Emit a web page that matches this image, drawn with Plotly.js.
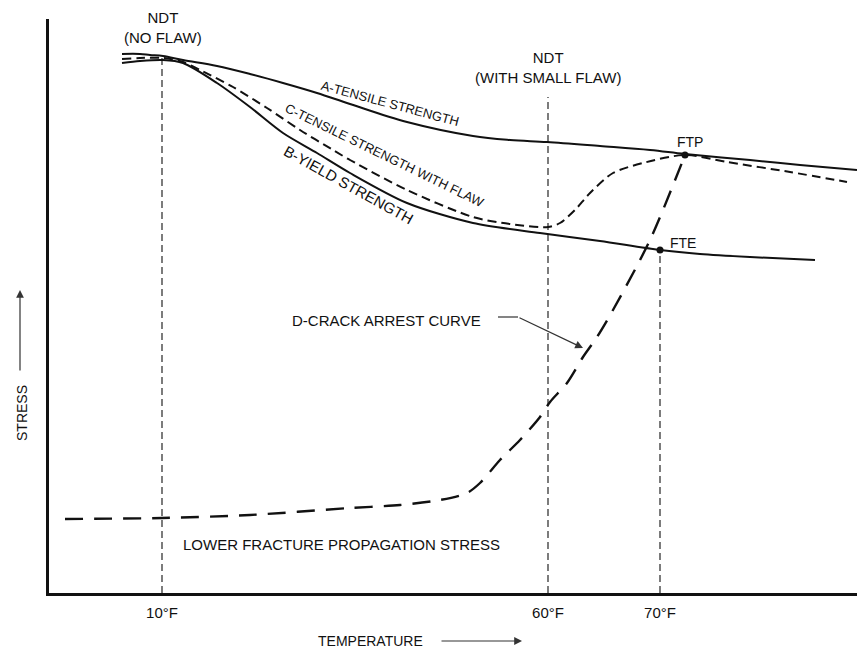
<!DOCTYPE html>
<html>
<head>
<meta charset="utf-8">
<script src="https://cdn.plot.ly/plotly-3.0.1.min.js"></script>
<style>html,body{margin:0;padding:0;background:#fff;}#chart{width:857px;height:650px;}</style>
</head>
<body>
<div id="chart"></div>
<script>
// Schematic chart: arbitrary temperature position units (x) and arbitrary stress units (y)
var tickPos = [117, 503, 615];
var tickLabels = ['10°F', '60°F', '70°F'];

// A - tensile strength
var aX = [77, 95, 105, 118, 138, 172, 205, 238, 272, 305, 362, 428, 465, 502, 555, 605, 640, 705, 755, 812];
var aY = [541, 541, 540, 539, 535, 529, 521, 512, 502, 491, 473, 459, 455, 453, 449, 445, 441, 435, 430, 425];

// B - yield strength
var bX = [77, 95, 118, 138, 172, 205, 238, 272, 305, 362, 428, 495, 555, 615, 655, 705, 770];
var bY = [532, 534, 535, 532, 512, 488, 462, 442, 422, 392, 372, 362, 354, 345, 341, 338, 335];

// C - tensile strength with flaw
var cX = [77, 95, 118, 138, 155, 188, 222, 255, 288, 305, 362, 428, 465, 503, 515, 530, 545, 568, 598, 640, 682, 745, 802];
var cY = [536, 537, 537, 533, 525, 508, 487, 465, 445, 435, 405, 378, 371, 368, 372, 385, 402, 422, 432, 440, 433, 423, 413];

// D - crack arrest curve
var dX = [20, 117, 205, 305, 355, 395, 422, 435, 455, 475, 495, 505, 522, 538, 552, 568, 605, 640];
var dY = [76, 77, 80, 87, 90, 95, 102, 112, 135, 155, 178, 193, 212, 238, 258, 285, 355, 440];

// Reference temperatures (vertical dashed lines) and their tops
var refX = [117, 503, 615];
var refTop = [537, 498, 345];

// FTP / FTE points
var ptNames = ['FTP', 'FTE'];
var ptX = [640, 615];
var ptY = [440, 345];

var INK = '#111111';
var FONT = 'Liberation Sans, Arial, sans-serif';
var XMIN = 4, XMAX = 812, YMIN = 2, YMAX = 576;

function px(x) { return (x - XMIN) / (XMAX - XMIN); }
function py(y) { return (y - YMIN) / (YMAX - YMIN); }

var traces = [];
for (var i = 0; i < refX.length; i++) {
  traces.push({x: [refX[i], refX[i]], y: [YMIN, refTop[i]], mode: 'lines',
    line: {color: INK, width: 1.1, dash: '7px,4px'}, hoverinfo: 'skip'});
}
traces.push({x: aX, y: aY, mode: 'lines', line: {color: INK, width: 2, shape: 'spline', smoothing: 1}});
traces.push({x: bX, y: bY, mode: 'lines', line: {color: INK, width: 2, shape: 'spline', smoothing: 0.8}});
traces.push({x: cX, y: cY, mode: 'lines', line: {color: INK, width: 2, shape: 'spline', smoothing: 0.8, dash: '9px,5px'}});
traces.push({x: dX, y: dY, mode: 'lines', line: {color: INK, width: 2.4, shape: 'spline', smoothing: 0.8, dash: '18px,11px'}});
traces.push({x: ptX, y: ptY, mode: 'markers', marker: {color: INK, size: 7}});

var ann = [
  {x: 118, y: 568, text: 'NDT<br>(NO FLAW)', size: 15},
  {x: 503, y: 527, text: 'NDT<br>(WITH SMALL FLAW)', size: 15},
  {x: 345, y: 492, text: 'A-TENSILE STRENGTH', size: 13, angle: 15},
  {x: 340, y: 440, text: 'C-TENSILE STRENGTH WITH FLAW', size: 13, angle: 26},
  {x: 303, y: 410, text: 'B-YIELD STRENGTH', size: 15, angle: 29},
  {x: 645, y: 453, text: ptNames[0], size: 14},
  {x: 638, y: 352, text: ptNames[1], size: 14},
  {x: 341, y: 275, text: 'D-CRACK ARREST CURVE', size: 15},
  {x: 296, y: 51, text: 'LOWER FRACTURE PROPAGATION STRESS', size: 15},
  {x: 325, y: -46, text: 'TEMPERATURE', size: 14},
  {x: -23, y: 182, text: 'STRESS', size: 14, angle: -90}
].map(function (a) {
  return {x: px(a.x), y: py(a.y), xref: 'paper', yref: 'paper', text: a.text, showarrow: false,
    textangle: a.angle || 0, xanchor: 'center', yanchor: 'middle',
    font: {family: FONT, size: a.size, color: INK}};
});
// arrows (head position, tail offset in px)
[[538, 247, -65, -31], [477, -46, -82, 0], [-25, 305, 0, 82]].forEach(function (a) {
  ann.push({x: px(a[0]), y: py(a[1]), xref: 'paper', yref: 'paper', ax: a[2], ay: a[3],
    text: '', showarrow: true, arrowhead: 2, arrowsize: 1.3, arrowwidth: 1.2, arrowcolor: '#333'});
});

var layout = {
  width: 857, height: 650,
  margin: {l: 49, r: 0, t: 19, b: 57},
  paper_bgcolor: '#fff', plot_bgcolor: '#fff',
  showlegend: false, hovermode: false,
  xaxis: {range: [XMIN, XMAX], showgrid: false, zeroline: false, showline: true,
    linecolor: INK, linewidth: 3, ticks: '', tickvals: tickPos, ticktext: tickLabels,
    ticklabelstandoff: 4,
    tickfont: {family: FONT, size: 15, color: INK}, fixedrange: true},
  yaxis: {range: [YMIN, YMAX], showgrid: false, zeroline: false, showline: true,
    linecolor: INK, linewidth: 3, ticks: '', showticklabels: false, fixedrange: true},
  shapes: [{type: 'line', xref: 'x', yref: 'y', x0: 453, x1: 473, y0: 278, y1: 278,
    line: {color: '#333', width: 1.2}}],
  annotations: ann
};

Plotly.newPlot('chart', traces, layout, {staticPlot: true, displayModeBar: false});
</script>
</body>
</html>
